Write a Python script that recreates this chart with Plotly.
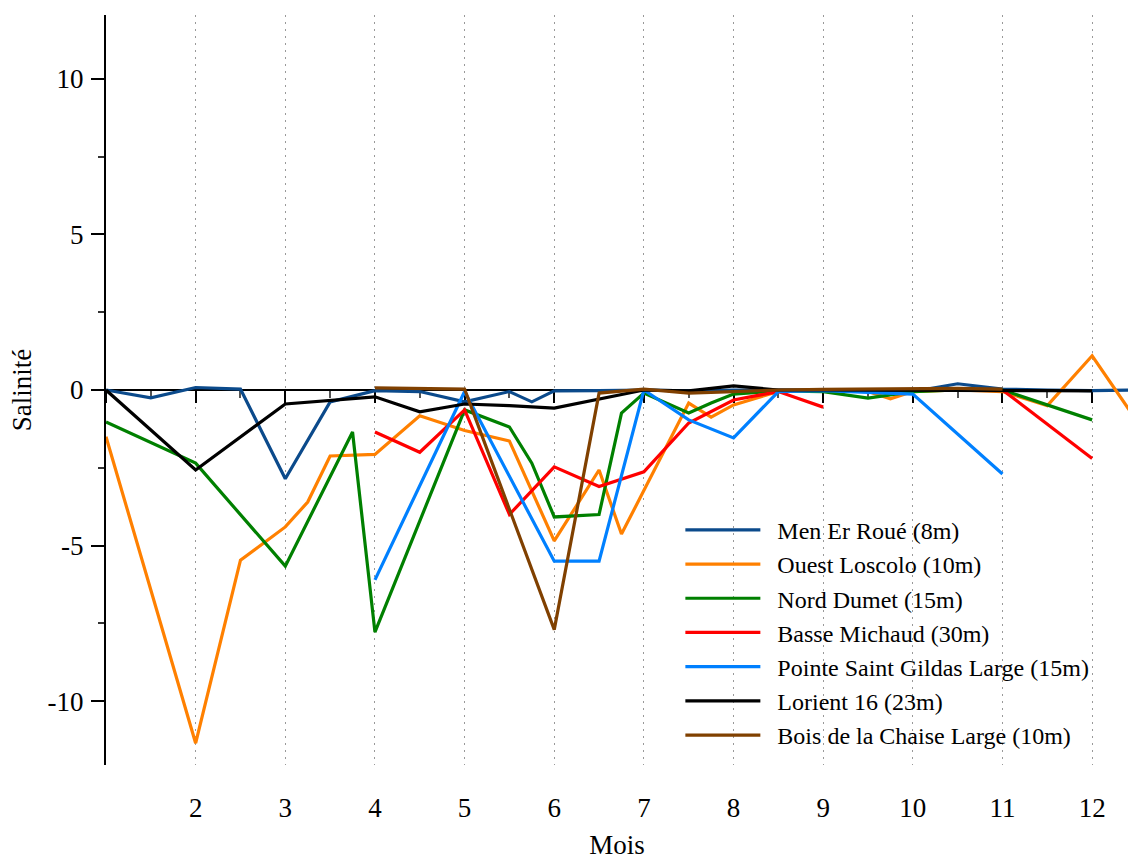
import plotly.graph_objects as go

# ---- data ----
men_x = [1, 1.5, 2, 2.5, 3, 3.5, 4, 4.5, 5, 5.5, 5.75, 6, 6.5, 7, 7.5, 8, 8.5, 9, 9.5, 10, 10.5, 11, 11.5, 12, 12.5]
men_y = [0, -0.25, 0.08, 0.03, -2.85, -0.38, -0.02, -0.05, -0.38, -0.05, -0.38, -0.03, -0.02, 0.0, -0.03, 0.0, 0.0, -0.02, -0.02, -0.05, 0.2, 0.03, 0.0, -0.02, 0.0]

ouest_x = [1, 2, 2.5, 3, 3.25, 3.5, 4, 4.5, 5, 5.5, 6, 6.5, 6.75, 7.5, 7.75, 8, 8.5, 9, 9.5, 9.75, 10, 10.5, 11, 11.5, 12, 12.5]
ouest_y = [-1.5, -11.35, -5.47, -4.4, -3.6, -2.12, -2.07, -0.83, -1.3, -1.64, -4.85, -2.57, -4.63, -0.42, -0.87, -0.48, -0.05, 0.0, -0.05, -0.28, -0.05, 0.0, -0.05, -0.5, 1.1, -1.0]

nord_x = [1, 2, 3, 3.75, 4, 5, 5.5, 5.75, 6, 6.5, 6.75, 7, 7.5, 7.75, 8, 8.5, 9, 9.5, 10, 10.5, 11, 11.5, 12]
nord_y = [-1.03, -2.35, -5.66, -1.35, -7.78, -0.64, -1.19, -2.35, -4.08, -4.0, -0.74, -0.1, -0.74, -0.42, -0.13, -0.03, -0.05, -0.26, -0.05, 0.0, 0.0, -0.48, -0.96]

basse_x = [4, 4.5, 5, 5.5, 6, 6.5, 7, 7.5, 8, 8.5, 9, 10, 11, 12]
basse_y = [-1.35, -2.0, -0.64, -4.0, -2.47, -3.1, -2.63, -1.06, -0.32, -0.05, -0.55, None, 0.0, -2.2]

pointe_x = [4, 5, 6, 6.5, 7, 7.5, 8, 8.5, 9, 9.5, 10, 11]
pointe_y = [-6.1, -0.05, -5.5, -5.5, 0.0, -0.96, -1.54, -0.05, -0.02, -0.08, -0.13, -2.7]

lorient_x = [1, 2, 3, 4, 4.5, 5, 5.5, 6, 7, 7.5, 8, 8.5, 9, 9.5, 10, 10.5, 11, 11.5, 12]
lorient_y = [0, -2.57, -0.45, -0.22, -0.7, -0.45, -0.5, -0.58, 0.0, -0.03, 0.13, 0.0, 0.0, 0.0, 0.0, 0.0, -0.02, -0.02, -0.03]

bois_x = [4, 4.5, 5, 6, 6.5, 7, 7.5, 8, 8.5, 9, 9.5, 10, 10.5, 11]
bois_y = [0.07, 0.05, 0.03, -7.7, -0.1, 0.03, -0.1, -0.05, 0.0, 0.02, 0.03, 0.05, 0.05, 0.03]

series_names = ["Men Er Roué (8m)", "Ouest Loscolo (10m)", "Nord Dumet (15m)",
                "Basse Michaud (30m)", "Pointe Saint Gildas Large (15m)",
                "Lorient 16 (23m)", "Bois de la Chaise Large (10m)"]
series_colors = ["#0b4a8b", "#ff8000", "#008000", "#ff0000", "#0080ff", "#000000", "#804000"]
series_data = [(men_x, men_y), (ouest_x, ouest_y), (nord_x, nord_y), (basse_x, basse_y),
               (pointe_x, pointe_y), (lorient_x, lorient_y), (bois_x, bois_y)]

month_ticks = list(range(2, 13))
month_all = list(range(1, 13))
half_months = [m + 0.5 for m in range(1, 13)]
y_ticks = [-10, -5, 0, 5, 10]
y_tick_labels = ["-10", "-5", "0", "5", "10"]
y_minor = [-7.5, -2.5, 2.5, 7.5]

FONT = "Liberation Serif"
FS = 27
LFS = 24
PAD = "\u00a0\u00a0"

fig = go.Figure()
for i, (name, color, (xs, ys)) in enumerate(zip(series_names, series_colors, series_data)):
    fig.add_trace(go.Scatter(x=xs, y=ys, mode="lines", name=PAD + name,
                             line=dict(color=color, width=3.2),
                             connectgaps=False, legendgroup=f"g{i}"))

xr = [1, 12.4]
fig.update_layout(
    width=1128, height=860,
    margin=dict(l=106, r=0, t=15, b=95),
    plot_bgcolor="white", paper_bgcolor="white",
    font=dict(family=FONT, size=FS, color="black"),
    showlegend=True,
    legend=dict(x=0.562, y=0.343, xanchor="left", yanchor="top",
                bgcolor="rgba(0,0,0,0)", font=dict(family=FONT, size=LFS),
                itemwidth=75, tracegroupgap=0, traceorder="grouped"),
    xaxis=dict(range=xr, tickvals=month_ticks, showline=False, ticks="",
               ticklabelstandoff=24, showgrid=True, gridcolor="#999999",
               griddash="2px,5px", gridwidth=1.2, zeroline=False,
               tickfont=dict(size=FS),
               title=dict(text="Mois", standoff=18, font=dict(size=FS))),
    xaxis2=dict(range=xr, overlaying="x", matches="x", anchor="free", position=0.5,
                side="bottom", showline=True, linecolor="black", linewidth=2,
                ticks="outside", tickvals=month_all, ticklen=12, tickwidth=2, tickcolor="black",
                minor=dict(tickvals=half_months, ticks="outside", ticklen=7, tickwidth=2, tickcolor="#555555"),
                showticklabels=False, showgrid=False, zeroline=False, layer="below traces"),
    yaxis=dict(range=[-12.05, 12.05], tickvals=y_ticks, ticktext=y_tick_labels,
               ticks="outside", ticklen=13, tickfont=dict(size=FS), ticklabelstandoff=2,
               tickwidth=1.5, tickcolor="black", showline=True, linecolor="black", linewidth=2,
               minor=dict(tickvals=y_minor, ticks="outside", ticklen=6, tickwidth=1.5, tickcolor="#333333"),
               showgrid=False, zeroline=False,
               title=dict(text="Salinité", standoff=8, font=dict(size=FS))),
)
# invisible trace to bind the overlay axis
fig.add_trace(go.Scatter(x=[1], y=[0], xaxis="x2", mode="markers",
                         marker=dict(opacity=0), showlegend=False, hoverinfo="skip"))

fig.write_html("out.html")
